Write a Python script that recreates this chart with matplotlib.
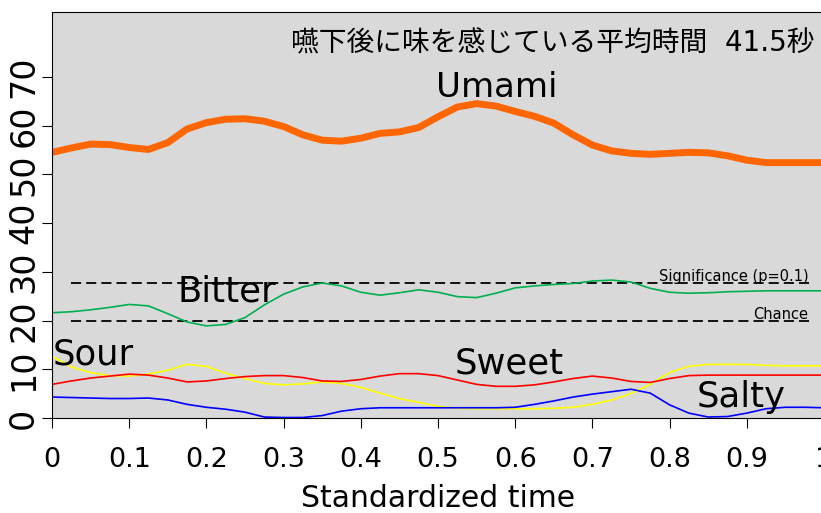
import numpy as np
import matplotlib
matplotlib.use("Agg")
import matplotlib.pyplot as plt

plt.rcParams['font.family'] = ['DejaVu Sans', 'Noto Sans CJK JP']

# standardized time, 0 .. 1 in steps of 0.025
t = np.linspace(0, 1, 41)

umami = [54.5, 55.4, 56.2, 56.1, 55.5, 55.1, 56.5, 59.3, 60.6, 61.3,
         61.4, 60.9, 59.8, 58.1, 57.0, 56.8, 57.4, 58.4, 58.7, 59.6,
         61.8, 63.8, 64.5, 64.0, 62.9, 61.9, 60.5, 58.1, 56.0, 54.8,
         54.3, 54.1, 54.3, 54.5, 54.4, 53.8, 52.9, 52.4, 52.4, 52.4, 52.4]
bitter = [21.6, 21.8, 22.2, 22.7, 23.3, 23.0, 21.4, 19.7, 18.9, 19.2,
          20.6, 23.2, 25.4, 26.9, 27.7, 27.1, 25.8, 25.2, 25.7, 26.3,
          25.8, 24.9, 24.7, 25.6, 26.7, 27.1, 27.4, 27.6, 28.1, 28.3,
          27.9, 26.6, 25.8, 25.6, 25.7, 25.9, 26.0, 26.1, 26.1, 26.1, 26.1]
sour = [12.7, 10.5, 9.3, 8.7, 8.6, 9.0, 9.8, 11.0, 10.6, 9.2,
        8.1, 7.1, 6.8, 7.0, 7.4, 7.1, 6.3, 5.1, 4.0, 3.2,
        2.4, 2.0, 1.9, 1.9, 1.9, 1.9, 2.0, 2.2, 2.8, 3.7,
        5.0, 6.9, 9.3, 10.6, 11.0, 11.0, 11.0, 10.8, 10.7, 10.7, 10.7]
sweet = [6.9, 7.6, 8.2, 8.6, 9.0, 8.8, 8.2, 7.4, 7.6, 8.1,
         8.5, 8.7, 8.7, 8.3, 7.6, 7.5, 7.9, 8.6, 9.1, 9.1,
         8.7, 7.8, 6.9, 6.5, 6.5, 6.8, 7.4, 8.1, 8.6, 8.2,
         7.5, 7.3, 8.1, 8.7, 8.8, 8.8, 8.8, 8.8, 8.8, 8.8, 8.8]
salty = [4.3, 4.2, 4.1, 4.0, 4.0, 4.1, 3.7, 2.8, 2.2, 1.8,
         1.2, 0.2, 0.1, 0.1, 0.5, 1.4, 1.9, 2.1, 2.1, 2.1,
         2.1, 2.1, 2.1, 2.1, 2.2, 2.8, 3.5, 4.3, 4.9, 5.4,
         5.9, 5.1, 2.7, 1.0, 0.2, 0.3, 1.0, 1.9, 2.2, 2.2, 2.1]

sig_level = 27.7
chance_level = 20
xticks = [0, 0.1, 0.2, 0.3, 0.4, 0.5, 0.6, 0.7, 0.8, 0.9, 1]
xticklabels = ['0', '0.1', '0.2', '0.3', '0.4', '0.5', '0.6', '0.7', '0.8', '0.9', '1']
yticks = [0, 10, 20, 30, 40, 50, 60, 70]
title = '嚥下後に味を感じている平均時間  41.5秒'

fig = plt.figure(figsize=(8.21, 5.13), dpi=100)
ax = fig.add_axes([52/821, 1-418/513, 772/821, 406/513])
ax.set_facecolor('#d9d9d9')

# reference levels
ax.plot([0.025, 0.98], [sig_level, sig_level], color='#111111', lw=1.4, dashes=[5.2, 2.6])
ax.plot([0.025, 0.98], [chance_level, chance_level], color='#111111', lw=1.4, dashes=[5.2, 2.6])

ax.plot(t, bitter, color='#00b050', lw=1.2)
ax.plot(t, sour, color='#ffff00', lw=1.2)
ax.plot(t, sweet, color='#ff0000', lw=1.2)
ax.plot(t, salty, color='#0000ff', lw=1.2)
ax.plot(t, umami, color='#ff6600', lw=5, solid_capstyle='round')

ax.text(0.98, sig_level + 0.5, 'Significance (p=0.1)', ha='right', va='baseline', fontsize=10.5)
ax.text(0.98, chance_level + 0.4, 'Chance', ha='right', va='baseline', fontsize=10.5)

ax.text(0.576, 65.9, 'Umami', ha='center', va='baseline', fontsize=24.5)
ax.text(0.226, 24.0, 'Bitter', ha='center', va='baseline', fontsize=25.5)
ax.text(0.001, 11.0, 'Sour', ha='left', va='baseline', fontsize=25.5)
ax.text(0.592, 9.1, 'Sweet', ha='center', va='baseline', fontsize=25.5)
ax.text(0.893, 2.3, 'Salty', ha='center', va='baseline', fontsize=25.5)

ax.text(0.988, 76.8, title, ha='right', va='center', fontsize=20)

ax.set_xlim(0, 1)
ax.set_ylim(0, 83.3)
ax.set_xticks(xticks)
ax.set_xticklabels(xticklabels, fontsize=19.5)
ax.set_yticks(yticks)
ax.set_yticklabels([str(v) for v in yticks], fontsize=24, rotation=90, va='center')
ax.tick_params(axis='x', length=7, pad=14)
ax.tick_params(axis='y', length=7, pad=1.5)
ax.set_xlabel('Standardized time', fontsize=21.5, labelpad=8)

fig.savefig('out.png', dpi=100)
